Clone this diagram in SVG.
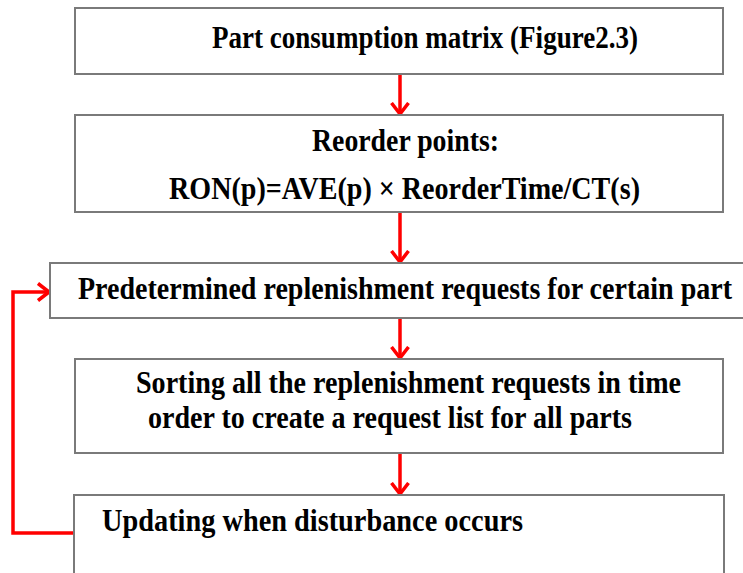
<svg xmlns="http://www.w3.org/2000/svg" width="743" height="573" viewBox="0 0 743 573">
  <style>
    .box { fill: #ffffff; stroke: #7a7a7a; stroke-width: 2; }
    .label { font-family: "Liberation Serif", "Times New Roman", serif; font-weight: bold; font-size: 31px; fill: #000000; }
    .flow { fill: none; stroke: #ff0000; stroke-width: 3.5; }
  </style>
  <defs>
    <marker id="chevron" viewBox="0 0 14 20" refX="12.5" refY="10" markerWidth="14" markerHeight="20" markerUnits="userSpaceOnUse" orient="auto">
      <path d="M1.5,1.5 L12.5,10 L1.5,18.5" fill="none" stroke="#ff0000" stroke-width="3.5" stroke-linejoin="miter"/>
    </marker>
  </defs>
  <rect width="743" height="573" fill="#ffffff"/>

  <g id="connectors">
    <line class="flow" x1="400" y1="75" x2="400" y2="114" marker-end="url(#chevron)"/>
    <line class="flow" x1="400" y1="213" x2="400" y2="262" marker-end="url(#chevron)"/>
    <line class="flow" x1="400" y1="319" x2="400" y2="358" marker-end="url(#chevron)"/>
    <line class="flow" x1="400" y1="454" x2="400" y2="494" marker-end="url(#chevron)"/>
    <polyline class="flow" points="74,533 13,533 13,292 49,292" marker-end="url(#chevron)"/>
  </g>

  <g id="part-consumption">
    <rect class="box" x="75" y="8" width="648" height="66"/>
    <text class="label" x="212" y="48" textLength="426" lengthAdjust="spacingAndGlyphs">Part consumption matrix (Figure2.3)</text>
  </g>

  <g id="reorder-points">
    <rect class="box" x="75" y="115" width="648" height="97"/>
    <text class="label" x="312" y="151" textLength="187" lengthAdjust="spacingAndGlyphs">Reorder points:</text>
    <text class="label" x="169" y="199" textLength="471" lengthAdjust="spacingAndGlyphs">RON(p)=AVE(p) × ReorderTime/CT(s)</text>
  </g>

  <g id="predetermined-requests">
    <rect class="box" x="50" y="263" width="720" height="55"/>
    <text class="label" x="78" y="299" textLength="654" lengthAdjust="spacingAndGlyphs">Predetermined replenishment requests for certain part</text>
  </g>

  <g id="sorting-requests">
    <rect class="box" x="75" y="359" width="648" height="94"/>
    <text class="label" x="136" y="393" textLength="545" lengthAdjust="spacingAndGlyphs">Sorting all the replenishment requests in time</text>
    <text class="label" x="148" y="428" textLength="484" lengthAdjust="spacingAndGlyphs">order to create a request list for all parts</text>
  </g>

  <g id="updating">
    <rect class="box" x="74" y="495" width="650" height="100"/>
    <text class="label" x="102" y="531" textLength="421" lengthAdjust="spacingAndGlyphs">Updating when disturbance occurs</text>
  </g>
</svg>
